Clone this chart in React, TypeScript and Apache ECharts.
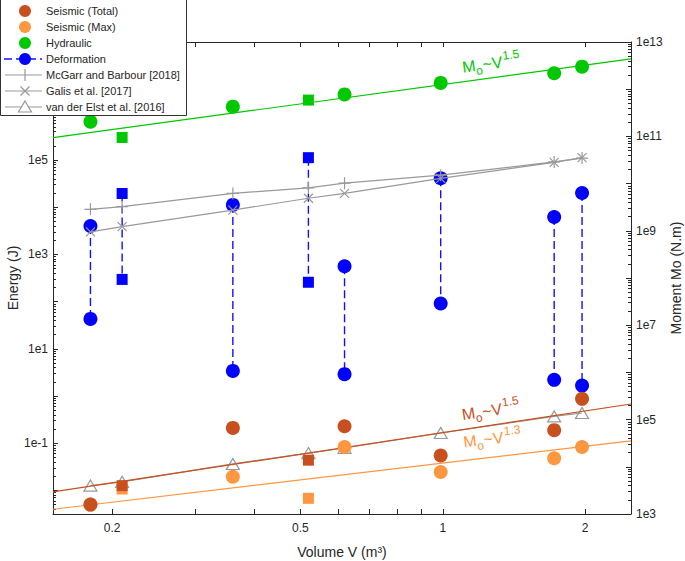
import React, { useEffect, useRef } from "react";
import * as echarts from "echarts";

// ---------------- data ----------------
const circleVolumes = [0.18, 0.36, 0.62, 0.99, 1.72, 1.97];
const squareVolumes = [0.21, 0.52];
const allVolumes = [0.18, 0.21, 0.36, 0.52, 0.62, 0.99, 1.72, 1.97];

// energies (J), left axis
const hydraulicCircles = [6.5e5, 1.35e6, 2.45e6, 4.3e6, 6.9e6, 9.5e6];
const hydraulicSquares = [3.0e5, 1.86e6];
const deformationTopCircles = [4.0e3, 1.12e4, 5.6e2, 4.1e4, 6.2e3, 2.0e4];
const deformationBottomCircles = [43, 3.4, 2.9, 91, 2.2, 1.66];
const deformationTopSquares = [1.95e4, 1.12e5];
const deformationBottomSquares = [295, 257];
const seismicTotalCircles = [0.005, 0.211, 0.229, 0.055, 0.189, 0.87];
const seismicTotalSquares = [0.0126, 0.0437];
const seismicMaxCircles = [0.005, 0.0195, 0.083, 0.0245, 0.048, 0.083];
const seismicMaxSquares = [0.0107, 0.0068];

// moments (N.m), right axis
const mcGarrMoment = [2.85e9, 3.24e9, 6.2e9, 8.1e9, 1.02e10, 1.51e10, 2.88e10, 3.47e10];
const galisMoment = [9.5e8, 1.23e9, 2.75e9, 4.9e9, 6.2e9, 1.29e10, 2.82e10, 3.55e10];
const vanDerElstMoment = [4.0e3, 4.8e3, 1.15e4, 1.95e4, 2.5e4, 5.2e4, 1.17e5, 1.38e5];

// fitted trend lines (right axis)
const fitVolumes = [0.15, 2.5];
const hydraulicFit = [9.4e10, 4.4e12];
const seismicTotalFit = [2.95e3, 2.14e5];
const seismicMaxFit = [1.26e3, 3.55e4];

// axes
const xRange = [0.15, 2.5];
const xTicks = [0.2, 0.3, 0.4, 0.5, 0.6, 0.7, 0.8, 0.9, 1, 2];
const xTickLabels = [0.2, 0.5, 1, 2];
const energyExpRange = [-2.5, 7.5];
const energyLabelExps = [-1, 1, 3, 5, 7];
const momentExpRange = [3, 13];
const momentLabelExps = [3, 5, 7, 9, 11, 13];

// ---------------- styles ----------------
const C_TOTAL = "#C8501E";
const C_MAX = "#FF9640";
const C_HYD = "#00C800";
const C_DEF = "#0000FF";
const C_GRAY = "#999999";
const C_AX = "#262626";
const FONT = "'Liberation Sans', Arial, Helvetica, sans-serif";

const L = (v: number) => Math.log10(v);
const pts = (xs: number[], ys: number[]) => xs.map((x, i) => [L(x), L(ys[i])]);

function majorTicks(lo: number, hi: number) {
  const out: number[] = [];
  for (let n = Math.ceil(lo); n <= Math.floor(hi); n++) out.push(n);
  return out;
}
function minorTicks(lo: number, hi: number) {
  const out: number[] = [];
  for (let n = Math.floor(lo) - 1; n <= Math.ceil(hi); n++) {
    for (let k = 2; k <= 9; k++) {
      const v = n + Math.log10(k);
      if (v > lo && v < hi) out.push(v);
    }
  }
  return out;
}

function App() {
  const ref = useRef<HTMLDivElement>(null);

  useEffect(() => {
    if (!ref.current) return;
    const chart = echarts.init(ref.current, undefined, { renderer: "svg" });

    const axisText = { color: C_AX, fontSize: 12, fontFamily: FONT };
    const lineStyle = { color: C_AX, width: 1 };

    const xCommon = {
      type: "value",
      min: L(xRange[0]),
      max: L(xRange[1]),
      splitLine: { show: false },
      axisLine: { show: true, onZero: false, lineStyle },
    };

    const yAxisMain = (pos: string, range: number[], labels: number[], name: string, gap: number) => ({
      type: "value",
      position: pos,
      min: range[0],
      max: range[1],
      splitLine: { show: false },
      axisLine: { show: true, onZero: false, lineStyle },
      axisTick: { show: true, inside: true, length: 5, customValues: majorTicks(range[0], range[1]), lineStyle },
      axisLabel: {
        show: true,
        customValues: labels,
        margin: 5,
        ...axisText,
        formatter: (v: number) => "1e" + Math.round(v),
      },
      name,
      nameLocation: "middle",
      nameGap: gap,
      nameRotate: 90,
      nameMoveOverlap: false,
      nameTextStyle: { color: C_AX, fontSize: 14, fontFamily: FONT },
    });
    const yAxisMinor = (pos: string, range: number[]) => ({
      type: "value",
      position: pos,
      min: range[0],
      max: range[1],
      splitLine: { show: false },
      axisLine: { show: false, onZero: false },
      axisTick: { show: true, inside: true, length: 3, customValues: minorTicks(range[0], range[1]), lineStyle },
      axisLabel: { show: false },
    });

    const scatter = (name: string, xs: number[], ys: number[], color: string, symbol: string, size: number, z: number) => ({
      type: "scatter",
      name,
      xAxisIndex: 0,
      yAxisIndex: 0,
      data: pts(xs, ys),
      symbol,
      symbolSize: size,
      itemStyle: { color, opacity: 1 },
      z,
      silent: true,
    });

    const fitLine = (name: string, ys: number[], color: string, z: number) => ({
      type: "line",
      name,
      xAxisIndex: 0,
      yAxisIndex: 2,
      data: pts(fitVolumes, ys),
      symbol: "none",
      lineStyle: { color, width: 1.2 },
      z,
      silent: true,
    });

    const refLine = (name: string, ys: number[], symbol: string, size: any, z: number) => ({
      type: "line",
      name,
      xAxisIndex: 0,
      yAxisIndex: 2,
      data: pts(allVolumes, ys),
      symbol,
      symbolSize: size,
      symbolKeepAspect: true,
      showSymbol: true,
      lineStyle: { color: C_GRAY, width: 1.2 },
      itemStyle: { color: "rgba(0,0,0,0)", borderColor: C_GRAY, borderWidth: 1.2 },
      z,
      silent: true,
    });

    const defLines = [
      ...circleVolumes.map((v, i) => [v, deformationTopCircles[i], deformationBottomCircles[i]]),
      ...squareVolumes.map((v, i) => [v, deformationTopSquares[i], deformationBottomSquares[i]]),
    ].map((d) => ({
      type: "line",
      xAxisIndex: 0,
      yAxisIndex: 0,
      data: [
        [L(d[0]), L(d[1])],
        [L(d[0]), L(d[2])],
      ],
      symbol: "none",
      lineStyle: { color: "#1010FF", width: 1.4, type: [8, 4] },
      z: 2,
      silent: true,
    }));

    const series: any[] = [
      fitLine("Hydraulic fit", hydraulicFit, C_HYD, 1),
      scatter("Hydraulic", circleVolumes, hydraulicCircles, C_HYD, "circle", 14, 2),
      scatter("Hydraulic", squareVolumes, hydraulicSquares, C_HYD, "rect", 11, 2),
      ...defLines,
      scatter("Deformation", circleVolumes, deformationTopCircles, C_DEF, "circle", 14, 2),
      scatter("Deformation", circleVolumes, deformationBottomCircles, C_DEF, "circle", 14, 2),
      scatter("Deformation", squareVolumes, deformationTopSquares, C_DEF, "rect", 11, 2),
      scatter("Deformation", squareVolumes, deformationBottomSquares, C_DEF, "rect", 11, 2),
      refLine("McGarr and Barbour [2018]", mcGarrMoment, "path://M5,0L5,10M0,5L10,5", 12, 3),
      refLine("Galis et al. [2017]", galisMoment, "path://M0,0L10,10M10,0L0,10", 9, 3),
      refLine("van der Elst et al. [2016]", vanDerElstMoment, "triangle", [13, 11], 3),
      fitLine("Seismic (Total) fit", seismicTotalFit, C_TOTAL, 4),
      fitLine("Seismic (Max) fit", seismicMaxFit, C_MAX, 4),
      scatter("Seismic (Max)", circleVolumes, seismicMaxCircles, C_MAX, "circle", 14, 5),
      scatter("Seismic (Max)", squareVolumes, seismicMaxSquares, C_MAX, "rect", 11, 5),
      scatter("Seismic (Total)", circleVolumes, seismicTotalCircles, C_TOTAL, "circle", 14, 6),
      scatter("Seismic (Total)", squareVolumes, seismicTotalSquares, C_TOTAL, "rect", 11, 6),
    ];

    // annotation "Mo~V^p" along a fitted line
    const annot = (x: number, y: number, rot: number, color: string, exp: string) => ({
      type: "group",
      x,
      y,
      rotation: rot,
      z: 50,
      silent: true,
      children: [
        { type: "text", z: 50, x: 0, y: 2, style: { text: "M", fill: color, fontSize: 16, fontFamily: FONT, verticalAlign: "bottom" } },
        { type: "text", z: 50, x: 13.5, y: 5.5, style: { text: "o", fill: color, fontSize: 12, fontFamily: FONT, verticalAlign: "bottom" } },
        { type: "text", z: 50, x: 20.5, y: 2, style: { text: "~V", fill: color, fontSize: 16, fontFamily: FONT, verticalAlign: "bottom" } },
        { type: "text", z: 50, x: 41.5, y: -6, style: { text: exp, fill: color, fontSize: 12, fontFamily: FONT, verticalAlign: "bottom" } },
      ],
    });

    // legend
    const Z = 200;
    const rowY = [11, 27, 43, 59, 75, 91, 107];
    const legText = (t: string, y: number) => ({
      type: "text",
      z: Z + 2,
      x: 46,
      y,
      style: { text: t, fill: C_AX, fontSize: 11, fontFamily: FONT, verticalAlign: "middle" },
    });
    const grayLine = (y: number) => ({ type: "line", z: Z + 1, shape: { x1: 5, y1: y, x2: 42, y2: y }, style: { stroke: C_GRAY, lineWidth: 1.2 } });
    const legend = {
      type: "group",
      x: 0,
      y: 0,
      z: Z,
      silent: true,
      children: [
        { type: "rect", z: Z, shape: { x: 0.5, y: -1, width: 186, height: 116.5 }, style: { fill: "#fff", stroke: "#333", lineWidth: 1 } },
        { type: "circle", z: Z + 2, shape: { cx: 25, cy: rowY[0], r: 6 }, style: { fill: C_TOTAL } },
        legText("Seismic (Total)", rowY[0]),
        { type: "circle", z: Z + 2, shape: { cx: 25, cy: rowY[1], r: 6 }, style: { fill: C_MAX } },
        legText("Seismic (Max)", rowY[1]),
        { type: "circle", z: Z + 2, shape: { cx: 25, cy: rowY[2], r: 6 }, style: { fill: C_HYD } },
        legText("Hydraulic", rowY[2]),
        { type: "line", z: Z + 1, shape: { x1: 4, y1: rowY[3], x2: 42, y2: rowY[3] }, style: { stroke: "#1010FF", lineWidth: 1.4, lineDash: [8, 4] } },
        { type: "circle", z: Z + 2, shape: { cx: 25, cy: rowY[3], r: 6 }, style: { fill: C_DEF } },
        legText("Deformation", rowY[3]),
        grayLine(rowY[4]),
        { type: "line", z: Z + 2, shape: { x1: 25, y1: rowY[4] - 6, x2: 25, y2: rowY[4] + 6 }, style: { stroke: C_GRAY, lineWidth: 1.2 } },
        legText("McGarr and Barbour [2018]", rowY[4]),
        grayLine(rowY[5]),
        { type: "line", z: Z + 2, shape: { x1: 20.5, y1: rowY[5] - 4.5, x2: 29.5, y2: rowY[5] + 4.5 }, style: { stroke: C_GRAY, lineWidth: 1.2 } },
        { type: "line", z: Z + 2, shape: { x1: 20.5, y1: rowY[5] + 4.5, x2: 29.5, y2: rowY[5] - 4.5 }, style: { stroke: C_GRAY, lineWidth: 1.2 } },
        legText("Galis et al. [2017]", rowY[5]),
        grayLine(rowY[6]),
        {
          type: "polygon",
          z: Z + 2,
          shape: { points: [[25, rowY[6] - 6], [31.5, rowY[6] + 5], [18.5, rowY[6] + 5]] },
          style: { fill: "#fff", stroke: C_GRAY, lineWidth: 1.2 },
        },
        legText("van der Elst et al. [2016]", rowY[6]),
      ],
    };

    chart.setOption({
      animation: false,
      backgroundColor: "#ffffff",
      textStyle: { fontFamily: FONT },
      grid: { left: 53, top: 42, width: 578, height: 472, containLabel: false, outerBoundsMode: "none" },
      xAxis: [
        {
          ...xCommon,
          position: "bottom",
          axisTick: { show: true, inside: true, length: 5, customValues: xTicks.map(L), lineStyle },
          axisLabel: {
            show: true,
            customValues: xTickLabels.map(L),
            margin: 8,
            ...axisText,
            formatter: (v: number) => String(+Math.pow(10, v).toPrecision(3)),
          },
          name: "Volume V (m³)",
          nameLocation: "middle",
          nameGap: 31,
          nameMoveOverlap: false,
          nameTextStyle: { color: C_AX, fontSize: 14, fontFamily: FONT },
        },
        {
          ...xCommon,
          position: "top",
          axisTick: { show: true, inside: true, length: 5, customValues: xTicks.map(L), lineStyle },
          axisLabel: { show: false },
        },
      ],
      yAxis: [
        yAxisMain("left", energyExpRange, energyLabelExps, "Energy (J)", 33),
        yAxisMinor("left", energyExpRange),
        yAxisMain("right", momentExpRange, momentLabelExps, "Moment Mo (N.m)", 38),
        yAxisMinor("right", momentExpRange),
      ],
      series,
      graphic: [
        annot(463, 73.3, 0.135, C_HYD, "1.5"),
        annot(462.7, 420.7, 0.15, C_TOTAL, "1.5"),
        annot(464, 448, 0.118, C_MAX, "1.3"),
        legend,
      ],
    });

    return () => chart.dispose();
  }, []);

  return <div ref={ref} style={{ position: "fixed", left: 0, top: 0, width: 685, height: 561, background: "#fff" }} />;
}

export default App;
